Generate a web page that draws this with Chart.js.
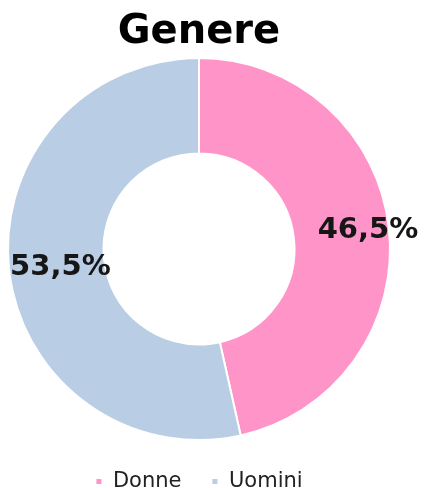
<!DOCTYPE html>
<html>
<head>
<meta charset="utf-8">
<script src="https://cdn.jsdelivr.net/npm/chart.js@4/dist/chart.umd.min.js"></script>
<style>
  html, body { margin: 0; padding: 0; background: #ffffff; }
  #wrap { width: 425px; height: 488px; position: relative; }
</style>
</head>
<body>
<div id="wrap"><canvas id="c"></canvas></div>
<script>
// Data
const categories = ["Donne", "Uomini"];
const percentValues = [46.5, 53.5];
const valueLabels = ["46,5%", "53,5%"];
const chartTitle = "Genere";

// Styles
const sliceColors = ["#FF94C9", "#B9CDE5"];
const labelRadiusFraction = [0.89, 0.73];

const sliceLabelPlugin = {
  id: 'sliceLabels',
  afterDatasetsDraw(chart) {
    const ctx = chart.ctx;
    const meta = chart.getDatasetMeta(0);
    ctx.save();
    ctx.font = 'bold 29px "DejaVu Sans"';
    ctx.fillStyle = '#161616';
    ctx.textAlign = 'center';
    ctx.textBaseline = 'middle';
    meta.data.forEach((arc, i) => {
      const p = arc.getProps(['x', 'y', 'startAngle', 'endAngle', 'outerRadius'], true);
      const mid = (p.startAngle + p.endAngle) / 2;
      const r = p.outerRadius * labelRadiusFraction[i];
      ctx.fillText(valueLabels[i], p.x + Math.cos(mid) * r, p.y + Math.sin(mid) * r + (i === 1 ? 3 : 0));
    });
    ctx.restore();
  }
};

new Chart(document.getElementById('c'), {
  type: 'doughnut',
  data: {
    labels: categories,
    datasets: [{
      data: percentValues,
      backgroundColor: sliceColors,
      borderColor: '#ffffff',
      borderWidth: 2,
      clip: false
    }]
  },
  options: {
    responsive: true,
    maintainAspectRatio: false,
    animation: false,
    cutout: '50%',
    layout: { padding: { left: 0, right: 27, top: 0, bottom: 0 } },
    plugins: {
      title: {
        display: true,
        text: chartTitle,
        color: '#000000',
        font: { family: 'DejaVu Sans', size: 40, weight: 'bold', lineHeight: 1.2 },
        padding: { top: 9, bottom: 0 }
      },
      legend: {
        position: 'bottom',
        maxHeight: 47,
        labels: {
          color: '#222222',
          font: { family: 'DejaVu Sans', size: 21 },
          boxWidth: 7,
          boxHeight: 7,
          padding: 30
        }
      },
      tooltip: { enabled: false }
    }
  },
  plugins: [sliceLabelPlugin]
});
</script>
</body>
</html>
